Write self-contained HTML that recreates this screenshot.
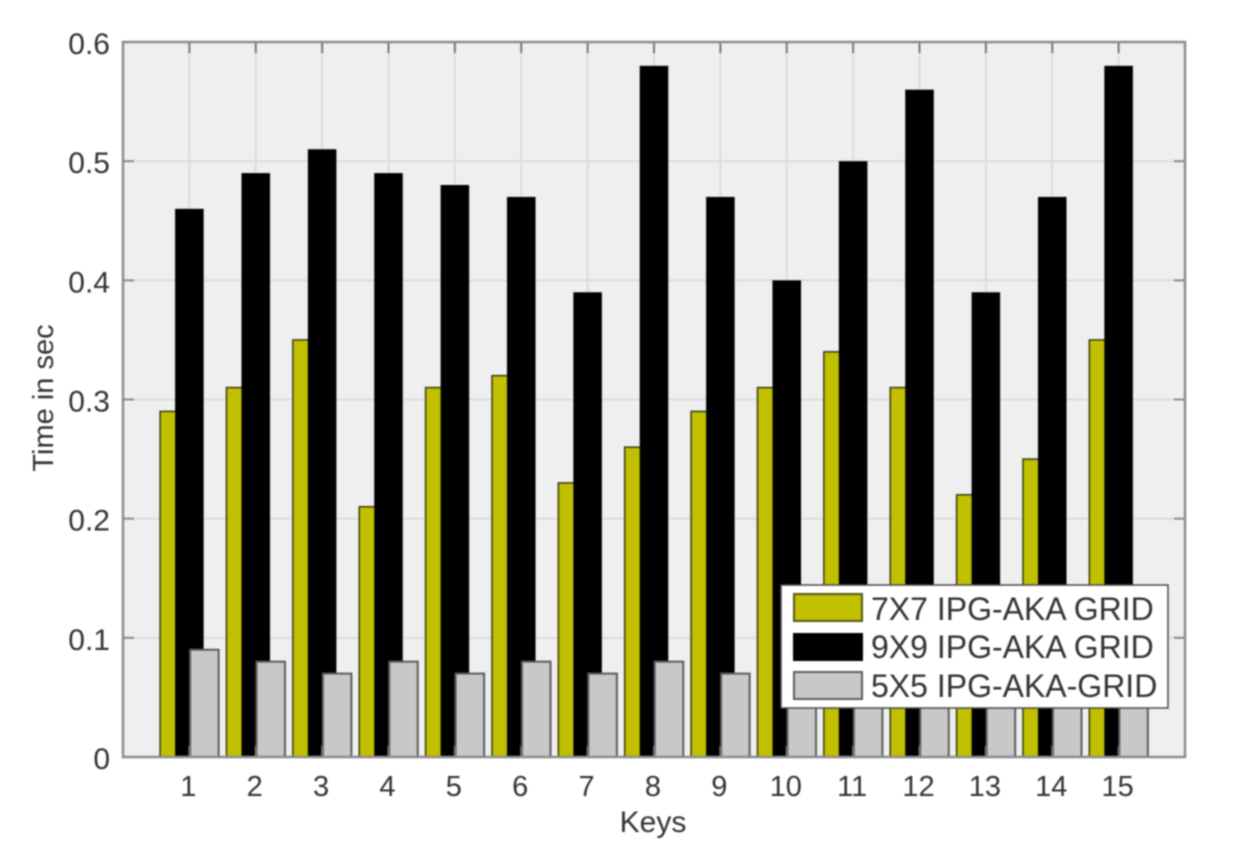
<!DOCTYPE html>
<html>
<head>
<meta charset="utf-8">
<style>
html,body{margin:0;padding:0;background:#fff;}
svg{display:block;filter:blur(0.8px);}
text{font-family:"Liberation Sans",sans-serif;fill:#333333;}
</style>
</head>
<body>
<svg id="chart" xmlns="http://www.w3.org/2000/svg" width="1239" height="851" viewBox="0 0 1239 851"></svg>
<script>
const categories = [1,2,3,4,5,6,7,8,9,10,11,12,13,14,15];
const seriesNames = ["7X7 IPG-AKA GRID","9X9 IPG-AKA GRID","5X5 IPG-AKA-GRID"];
const values7x7 = [0.29,0.31,0.35,0.21,0.31,0.32,0.23,0.26,0.29,0.31,0.34,0.31,0.22,0.25,0.35];
const values9x9 = [0.46,0.49,0.51,0.49,0.48,0.47,0.39,0.58,0.47,0.40,0.50,0.56,0.39,0.47,0.58];
const values5x5 = [0.09,0.08,0.07,0.08,0.07,0.08,0.07,0.08,0.07,0.08,0.07,0.08,0.07,0.08,0.07];
const yTicks = [0,0.1,0.2,0.3,0.4,0.5,0.6];
const yTickLabels = ["0","0.1","0.2","0.3","0.4","0.5","0.6"];

const svg = document.getElementById('chart');
const NS = 'http://www.w3.org/2000/svg';
const L = 123, R = 1185, T = 42, B = 757;
const xMax = 16, yMax = 0.6;
function sx(v){ return L + (R - L) * v / xMax; }
function sy(v){ return B - (B - T) * v / yMax; }
function mk(tag, attrs, name, interactable){
  const el = document.createElementNS(NS, tag);
  for (const k in attrs) el.setAttribute(k, attrs[k]);
  
  
  svg.appendChild(el);
  return el;
}

mk('rect',{x:L,y:T,width:R-L,height:B-T,fill:'#efefef'},'plot-background');

yTicks.forEach(function(t,i){
  if(i>0 && i<yTicks.length-1) mk('line',{x1:L,x2:R,y1:sy(t),y2:sy(t),stroke:'#dcdcdc','stroke-width':2},'y-gridline');
});
categories.forEach(function(c){
  mk('line',{x1:sx(c),x2:sx(c),y1:T,y2:B,stroke:'#dcdcdc','stroke-width':2},'x-gridline');
});

const barOffset = 0.226, barWidth = 0.43;
const series = [
  {vals:values7x7, off:-barOffset, fill:'#c0bf00', stroke:'#3a3a10', sw:1.5, name:'bar-7x7'},
  {vals:values9x9, off:0, fill:'#000000', stroke:'none', sw:0, name:'bar-9x9'},
  {vals:values5x5, off:barOffset, fill:'#c8c8c8', stroke:'#5c5c5c', sw:2, name:'bar-5x5'}
];
series.forEach(function(s){
  s.vals.forEach(function(v,i){
    const x0 = sx(categories[i] + s.off - barWidth/2);
    const x1 = sx(categories[i] + s.off + barWidth/2);
    mk('rect',{x:x0,y:sy(v),width:x1-x0,height:B-sy(v),fill:s.fill,stroke:s.stroke,'stroke-width':s.sw},s.name);
  });
});

yTicks.forEach(function(t,i){
  if(i>0 && i<yTicks.length-1){
    mk('line',{x1:L,x2:L+11,y1:sy(t),y2:sy(t),stroke:'#8a8a8a','stroke-width':2},'y-tick-left');
    mk('line',{x1:R-11,x2:R,y1:sy(t),y2:sy(t),stroke:'#8a8a8a','stroke-width':2},'y-tick-right');
  }
  const lbl = mk('text',{x:110,y:sy(t)+12,'font-size':30,'text-anchor':'end'},'y-tick-label');
  lbl.textContent = yTickLabels[i];
});
categories.forEach(function(c){
  mk('line',{x1:sx(c),x2:sx(c),y1:T,y2:T+11,stroke:'#777777','stroke-width':2},'x-tick-top');
  mk('line',{x1:sx(c),x2:sx(c),y1:B-11,y2:B,stroke:'#777777','stroke-width':2},'x-tick-bottom');
  const lbl = mk('text',{x:sx(c)-1,y:796,'font-size':29,'text-anchor':'middle'},'x-tick-label');
  lbl.textContent = String(c);
});
mk('rect',{x:L,y:T,width:R-L,height:B-T,fill:'none',stroke:'#8c8c8c','stroke-width':2.5},'plot-frame');

const xTitle = mk('text',{x:653,y:832,'font-size':30,'text-anchor':'middle'},'x-axis-title');
xTitle.textContent = 'Keys';
const yTitle = mk('text',{x:0,y:0,'font-size':29,'text-anchor':'middle',transform:'translate(53,398) rotate(-90)'},'y-axis-title');
yTitle.textContent = 'Time in sec';

mk('rect',{x:781,y:585,width:387,height:123,fill:'#ffffff',stroke:'#4a4a4a','stroke-width':1.5},'legend-box');
const swatchY = [594,634,672];
const swatchH = [27,26,27];
const textY = [620,658,697];
series.forEach(function(s,i){
  mk('rect',{x:794,y:swatchY[i],width:68,height:swatchH[i],fill:s.fill,stroke:i===0?'#55551a':(i===1?'#000000':s.stroke),'stroke-width':2},'legend-swatch');
  const lbl = mk('text',{x:871,y:textY[i],'font-size':32},'legend-entry');
  lbl.textContent = seriesNames[i];
});
</script>
</body>
</html>
